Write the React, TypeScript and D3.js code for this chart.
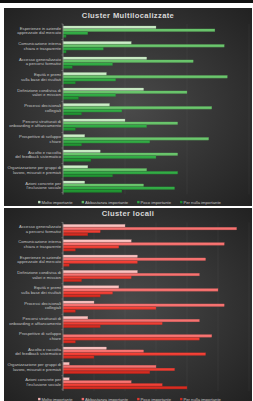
import React, { useEffect, useRef } from 'react';
import * as d3 from 'd3';

const seriesNames = ['Molto importante', 'Abbastanza importante', 'Poco importante', 'Per nulla importante'];

// Cluster Multilocalizzate
const multiCategories = [
  'Esperienze in aziende|apprezzate dal mercato',
  'Comunicazione interna|chiara e trasparente',
  'Accesso generalizzato|a percorsi formativi',
  'Equità e premi|sulla base dei risultati',
  'Definizione condivisa di|valori e mission',
  'Processi decisionali|collegiali',
  'Percorsi strutturati di|onboarding e affiancamento',
  'Prospettive di sviluppo|chiare',
  'Ascolto e raccolta|del feedback sistematico',
  'Organizzazione per gruppi di|lavoro, misurati e premiati',
  "Azioni concrete per|l'inclusione sociale",
];
const multiMolto = [30, 22, 27, 14, 26, 15, 20, 7, 12, 8, 7];
const multiAbbastanza = [49, 52, 42, 53, 40, 48, 37, 47, 37, 27, 26];
const multiPoco = [8, 13, 16, 17, 17, 19, 27, 28, 30, 37, 36];
const multiPerNulla = [1, 1, 3, 4, 5, 6, 4, 6, 9, 16, 19];

// Cluster locali
const localiCategories = [
  'Accesso generalizzato|a percorsi formativi',
  'Comunicazione interna|chiara e trasparente',
  'Esperienze in aziende|apprezzate dal mercato',
  'Definizione condivisa di|valori e mission',
  'Equità e premi|sulla base dei risultati',
  'Processi decisionali|collegiali',
  'Percorsi strutturati di|onboarding e affiancamento',
  'Prospettive di sviluppo|chiare',
  'Ascolto e raccolta|del feedback sistematico',
  'Organizzazione per gruppi di|lavoro, misurati e premiati',
  "Azioni concrete per|l'inclusione sociale",
];
const localiMolto = [10, 11, 12, 12, 9, 5, 4, 0, 7, 1, 1];
const localiAbbastanza = [28, 26, 23, 22, 25, 26, 22, 24, 13, 15, 11];
const localiPoco = [6, 9, 12, 11, 8, 15, 16, 22, 23, 18, 16];
const localiPerNulla = [4, 2, 1, 3, 6, 2, 6, 2, 5, 14, 20];

const greens = ['#bcdcb8', '#63b865', '#2fa040', '#1f8a2f'];
const reds = ['#f4b4b2', '#ee6b69', '#e03b31', '#c9291f'];

const W = 253;
const H = 401;
const FONT = '"Liberation Sans", Arial, sans-serif';

function drawChart(svg, defs, o) {
  const g = svg.append('g');

  g.append('rect')
    .attr('x', 4).attr('y', o.top)
    .attr('width', 248).attr('height', o.bottom - o.top)
    .attr('fill', 'url(#panelBg)');

  g.append('text')
    .attr('x', 128).attr('y', o.titleY)
    .attr('text-anchor', 'middle')
    .attr('font-family', FONT)
    .attr('font-weight', 'bold')
    .attr('font-size', 7.6)
    .attr('letter-spacing', 0.35)
    .attr('fill', '#d8d8d8')
    .text(o.title);

  const x = d3.scaleLinear().domain([0, o.xMax]).range([63, 249]);
  const y = d3.scaleBand()
    .domain(d3.range(o.categories.length))
    .range([o.plotTop, o.plotBottom])
    .paddingInner(0.24)
    .paddingOuter(0.12);
  const sub = d3.scaleBand().domain(d3.range(4)).range([0, y.bandwidth()]);

  // faint vertical gridlines
  g.selectAll('.grid')
    .data(d3.range(o.tickStep, o.xMax + 0.001, o.tickStep))
    .enter().append('line')
    .attr('x1', d => x(d)).attr('x2', d => x(d))
    .attr('y1', o.plotTop).attr('y2', o.plotBottom)
    .attr('stroke', '#ffffff')
    .attr('stroke-opacity', 0.07)
    .attr('stroke-width', 0.6);

  o.colors.forEach((c, i) => {
    const lg = defs.append('linearGradient')
      .attr('id', `${o.id}-g${i}`)
      .attr('x1', 0).attr('y1', 0).attr('x2', 0).attr('y2', 1);
    lg.append('stop').attr('offset', '0%').attr('stop-color', d3.color(c).brighter(0.35).formatHex());
    lg.append('stop').attr('offset', '100%').attr('stop-color', c);
  });

  o.series.forEach((vals, s) => {
    g.selectAll(`.bar-${s}`)
      .data(vals)
      .enter().append('rect')
      .attr('x', x(0))
      .attr('y', (d, i) => y(i) + sub(s) + 0.15)
      .attr('width', d => x(d) - x(0))
      .attr('height', sub.bandwidth() - 0.3)
      .attr('fill', `url(#${o.id}-g${s})`)
      .attr('stroke', d3.color(o.colors[s]).darker(0.6).formatHex())
      .attr('stroke-width', 0.3);
  });

  // category axis
  g.append('line')
    .attr('x1', x(0)).attr('x2', x(0))
    .attr('y1', o.plotTop).attr('y2', o.plotBottom)
    .attr('stroke', '#8a8a8a').attr('stroke-width', 0.8);
  g.selectAll('.tick')
    .data(d3.range(o.categories.length + 1))
    .enter().append('line')
    .attr('x1', x(0) - 1.6).attr('x2', x(0))
    .attr('y1', i => (i < o.categories.length ? y(i) - y.step() * y.paddingInner() / 2 : o.plotBottom - y.step() * 0.12 + y.step() * 0.0))
    .attr('y2', i => (i < o.categories.length ? y(i) - y.step() * y.paddingInner() / 2 : o.plotBottom - y.step() * 0.12))
    .attr('stroke', '#8a8a8a').attr('stroke-width', 0.5);

  const labels = g.selectAll('.cat')
    .data(o.categories)
    .enter().append('text')
    .attr('text-anchor', 'end')
    .attr('font-family', FONT)
    .attr('font-size', 4.2)
    .attr('fill', '#c4c4c4');
  labels.each(function (d, i) {
    const lines = d.split('|');
    const cy = y(i) + y.bandwidth() / 2;
    const t = d3.select(this);
    lines.forEach((ln, k) => {
      t.append('tspan')
        .attr('x', 61)
        .attr('y', cy - 0.6 + (k - (lines.length - 1) / 2) * 4.4 + 0.9)
        .text(ln);
    });
  });

  // legend
  const lg = g.append('g');
  let cx = 0;
  seriesNames.forEach((name, i) => {
    const item = lg.append('g').attr('transform', `translate(${cx},0)`);
    item.append('rect')
      .attr('x', 0).attr('y', -2.6)
      .attr('width', 2.4).attr('height', 2.4)
      .attr('fill', o.colors[i]);
    const t = item.append('text')
      .attr('x', 3.4).attr('y', 0)
      .attr('font-family', FONT)
      .attr('font-size', 4.2)
      .attr('fill', '#c4c4c4')
      .text(name);
    cx += 3.4 + t.node().getComputedTextLength() + 9;
  });
  const total = cx - 9;
  lg.attr('transform', `translate(${129.5 - total / 2},${o.legendY})`);
}

const App = () => {
  const ref = useRef(null);

  useEffect(() => {
    const svg = d3.select(ref.current);
    svg.selectAll('*').remove();
    const defs = svg.append('defs');

    const rg = defs.append('radialGradient')
      .attr('id', 'panelBg')
      .attr('cx', '50%').attr('cy', '50%').attr('r', '75%');
    rg.append('stop').attr('offset', '0%').attr('stop-color', '#4a4a4a');
    rg.append('stop').attr('offset', '100%').attr('stop-color', '#1f1f1f');

    svg.append('rect').attr('width', W).attr('height', H).attr('fill', '#ffffff');
    svg.append('rect').attr('width', W).attr('height', 3).attr('fill', '#111111');

    drawChart(svg, defs, {
      id: 'multi',
      title: 'Cluster Multilocalizzate',
      top: 8, bottom: 206, titleY: 18,
      plotTop: 24, plotBottom: 194.5,
      legendY: 203.5,
      categories: multiCategories,
      series: [multiMolto, multiAbbastanza, multiPoco, multiPerNulla],
      colors: greens,
      xMax: 60, tickStep: 20,
    });

    drawChart(svg, defs, {
      id: 'loc',
      title: 'Cluster locali',
      top: 208, bottom: 401, titleY: 215.5,
      plotTop: 222.4, plotBottom: 391,
      legendY: 400.5,
      categories: localiCategories,
      series: [localiMolto, localiAbbastanza, localiPoco, localiPerNulla],
      colors: reds,
      xMax: 30, tickStep: 5,
    });
  }, []);

  return (
    <svg
      ref={ref}
      width={W}
      height={H}
      style={{ position: 'absolute', left: 0, top: 0, display: 'block' }}
    />
  );
};

export default App;
